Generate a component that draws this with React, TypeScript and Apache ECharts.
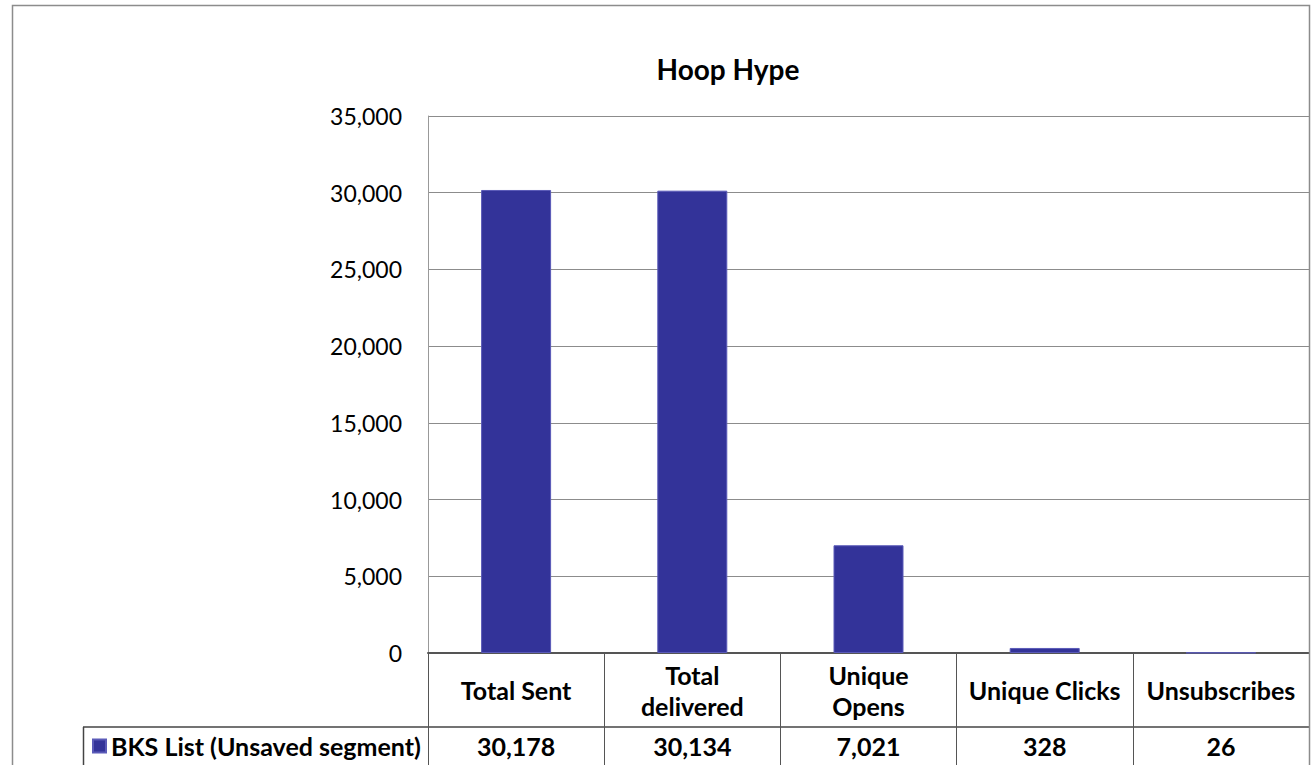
import React, { useEffect, useRef } from "react";
import * as echarts from "echarts";

const chartTitle = "Hoop Hype";
const seriesName = "BKS List (Unsaved segment)";
const categories = ["Total Sent", "Total delivered", "Unique Opens", "Unique Clicks", "Unsubscribes"];
const categoryTickLabels = ["Total Sent", "Total\ndelivered", "Unique\nOpens", "Unique Clicks", "Unsubscribes"];
const values = [30178, 30134, 7021, 328, 26];
const yTicks = { min: 0, max: 35000, interval: 5000 };

const fmt = (v: number) => v.toLocaleString("en-US");
const FONT = "Lato, 'Noto Sans', sans-serif";

export default function App() {
  const ref = useRef<HTMLDivElement>(null);
  useEffect(() => {
    if (!ref.current) return;
    const chart = echarts.init(ref.current, null, { renderer: "svg" });
    const gridLeft = 428;
    const gridTop = 116;
    const gridRight = 1309;
    const gridBottom = 653;
    chart.setOption({
      animation: false,
      backgroundColor: "#ffffff",
      textStyle: { fontFamily: FONT },
      title: {
        text: chartTitle,
        left: 723,
        top: 50,
        textAlign: "center",
        textStyle: { fontFamily: FONT, fontWeight: "bold", fontSize: 28, color: "#000" },
      },
      legend: {
        left: 92,
        top: 733,
        padding: 0,
        itemWidth: 13,
        itemHeight: 13,
        itemGap: 6,
        icon: "rect",
        selectedMode: false,
        textStyle: { fontFamily: FONT, fontWeight: "bold", fontSize: 25, color: "#000", lineHeight: 26, padding: [0, 0, 0, 0] },
        data: [seriesName],
      },
      grid: {
        left: gridLeft,
        top: gridTop,
        right: 1312 - gridRight,
        bottom: 765 - gridBottom,
        containLabel: false,
      },
      xAxis: [
        {
          type: "category",
          data: categories,
          position: "bottom",
          axisLine: { show: true, lineStyle: { color: "#555", width: 2 } },
          axisTick: { show: true, inside: false, length: 112, lineStyle: { color: "#555", width: 1 } },
          axisLabel: {
            margin: 37,
            verticalAlign: "middle",
            fontFamily: FONT,
            fontWeight: "bold",
            fontSize: 25,
            lineHeight: 31,
            color: "#000",
            interval: 0,
            formatter: (_v: string, i: number) => categoryTickLabels[i],
          },
          splitLine: { show: false },
        },
        {
          type: "category",
          data: categories,
          position: "bottom",
          axisLine: { show: false },
          axisTick: { show: false },
          axisLabel: {
            margin: 93,
            verticalAlign: "middle",
            fontFamily: FONT,
            fontWeight: "bold",
            fontSize: 25,
            color: "#000",
            interval: 0,
            formatter: (_v: string, i: number) => fmt(values[i]),
          },
          splitLine: { show: false },
        },
      ],
      yAxis: {
        type: "value",
        min: yTicks.min,
        max: yTicks.max,
        interval: yTicks.interval,
        axisLine: { show: true, lineStyle: { color: "#999", width: 1 } },
        axisTick: { show: false },
        axisLabel: {
          margin: 26,
          fontFamily: FONT,
          fontSize: 23,
          color: "#000",
          formatter: (v: number) => fmt(v),
        },
        splitLine: { show: true, lineStyle: { color: "#8c8c8c", width: 1 } },
      },
      series: [
        {
          name: seriesName,
          type: "bar",
          xAxisIndex: 0,
          data: values,
          barWidth: 70,
          itemStyle: { color: "#333399", borderColor: "#5a5ab8", borderWidth: 1 },
        },
      ],
      graphic: [
        {
          type: "rect",
          shape: { x: 12.5, y: 5.5, width: 1297, height: 800 },
          style: { fill: "none", stroke: "#8c8c8c", lineWidth: 1.5 },
          silent: true,
          z: 100,
        },
        {
          type: "line",
          shape: { x1: 83, y1: 727, x2: 1309, y2: 727 },
          style: { stroke: "#444", lineWidth: 1.5 },
          silent: true,
        },
        {
          type: "line",
          shape: { x1: 83.5, y1: 727, x2: 83.5, y2: 765 },
          style: { stroke: "#444", lineWidth: 1.5 },
          silent: true,
        },
      ],
    });
    return () => chart.dispose();
  }, []);
  return (
    <div
      ref={ref}
      style={{ position: "fixed", left: 0, top: 0, width: 1312, height: 765, background: "#fff" }}
    />
  );
}
